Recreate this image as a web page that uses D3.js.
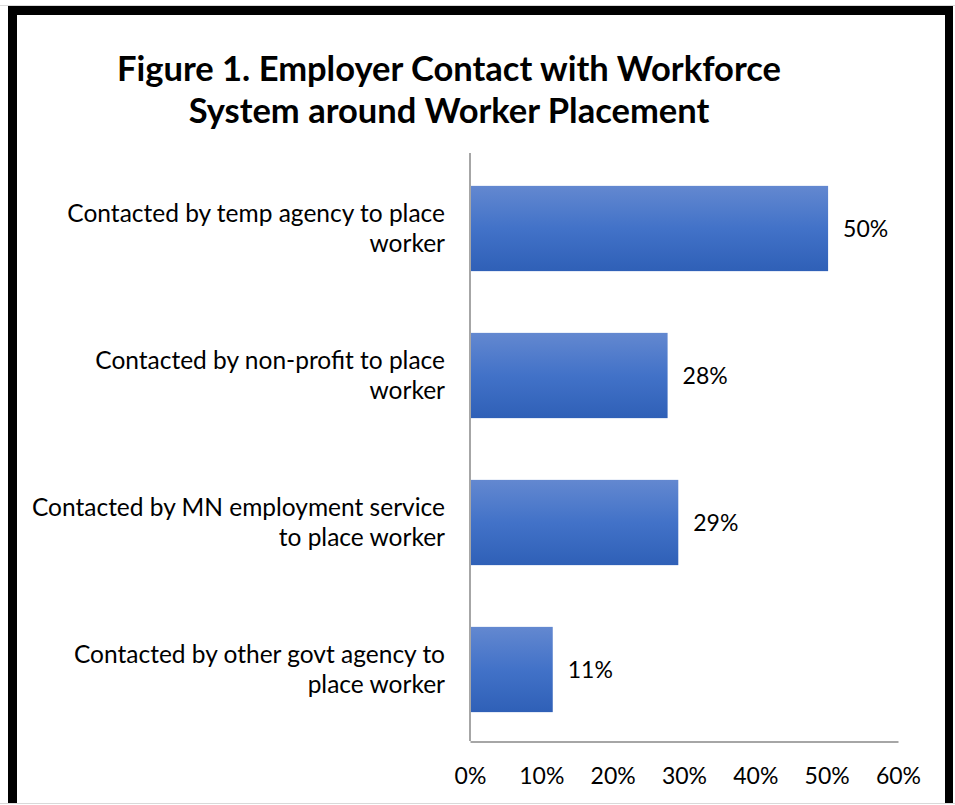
<!DOCTYPE html>
<html>
<head>
<meta charset="utf-8">
<script src="https://cdn.jsdelivr.net/npm/d3@7"></script>
<style>
  html, body { margin: 0; padding: 0; background: #fff; }
  svg { display: block; }
  text { font-family: Lato, "Open Sans", sans-serif; fill: #000; }
</style>
</head>
<body>
<svg id="chart" width="955" height="805"></svg>
<script>
const titleLines = ["Figure 1. Employer Contact with Workforce", "System around Worker Placement"];
const categories = [
  ["Contacted by temp agency to place", "worker"],
  ["Contacted by non-profit to place", "worker"],
  ["Contacted by MN employment service", "to place worker"],
  ["Contacted by other govt agency to", "place worker"]
];
const values = [0.502, 0.277, 0.292, 0.116];
const valueLabels = ["50%", "28%", "29%", "11%"];
const ticks = [0, 0.1, 0.2, 0.3, 0.4, 0.5, 0.6];

const svg = d3.select("#chart");

// frame
svg.append("line").attr("x1", 0).attr("x2", 955).attr("y1", 5.5).attr("y2", 5.5).attr("stroke", "#d9d9d9").attr("stroke-width", 1);
svg.append("line").attr("x1", 0).attr("x2", 955).attr("y1", 803.5).attr("y2", 803.5).attr("stroke", "#d9d9d9").attr("stroke-width", 1);
svg.append("rect").attr("x", 8).attr("y", 6).attr("width", 945).attr("height", 9).attr("fill", "#000");
svg.append("rect").attr("x", 8).attr("y", 6).attr("width", 9).attr("height", 797).attr("fill", "#000");
svg.append("rect").attr("x", 945).attr("y", 6).attr("width", 8).attr("height", 797).attr("fill", "#000");

// gradient
const defs = svg.append("defs");
const grad = defs.append("linearGradient").attr("id", "barGrad").attr("x1", 0).attr("y1", 0).attr("x2", 0).attr("y2", 1);
grad.append("stop").attr("offset", "0%").attr("stop-color", "#6388d0");
grad.append("stop").attr("offset", "50%").attr("stop-color", "#4272c8");
grad.append("stop").attr("offset", "100%").attr("stop-color", "#2f60b7");

// title
const title = svg.append("text").attr("text-anchor", "middle")
  .style("font-weight", "bold").style("font-size", "34.5px");
titleLines.forEach((t, i) => {
  title.append("tspan").attr("x", 449).attr("y", 81 + i * 42).text(t);
});

const x = d3.scaleLinear().domain([0, 0.6]).range([470, 898]);
const y = d3.scaleBand().domain(d3.range(categories.length)).range([155, 743])
  .paddingInner(0.42).paddingOuter(0.21);

// bars
svg.selectAll("rect.bar").data(values).join("rect")
  .attr("class", "bar")
  .attr("x", x(0))
  .attr("y", (d, i) => y(i))
  .attr("width", d => x(d) - x(0))
  .attr("height", y.bandwidth())
  .attr("fill", "url(#barGrad)");

// value labels
svg.selectAll("text.val").data(values).join("text")
  .attr("class", "val")
  .attr("x", d => x(d) + 15)
  .attr("y", (d, i) => y(i) + y.bandwidth() / 2)
  .attr("dy", "0.35em")
  .style("font-size", "23px")
  .text((d, i) => valueLabels[i]);

// category labels
categories.forEach((lines, i) => {
  const t = svg.append("text").attr("text-anchor", "end").style("font-size", "24.5px");
  const cy = y(i) + y.bandwidth() / 2;
  lines.forEach((l, j) => {
    t.append("tspan").attr("x", 445).attr("y", cy - 15 + j * 30).attr("dy", "0.35em").text(l);
  });
});

// axes
const xAxis = svg.append("g").attr("transform", "translate(0,741.5)")
  .call(d3.axisBottom(x).tickValues(ticks).tickFormat(d3.format(".0%")).tickSize(0).tickPadding(26));
xAxis.select(".domain").attr("stroke", "#a6a6a6").attr("stroke-width", 2);
xAxis.selectAll("text").style("font-size", "23px").attr("font-family", null);

svg.append("line").attr("x1", 470).attr("x2", 470).attr("y1", 153).attr("y2", 741)
  .attr("stroke", "#a6a6a6").attr("stroke-width", 2);
</script>
</body>
</html>
